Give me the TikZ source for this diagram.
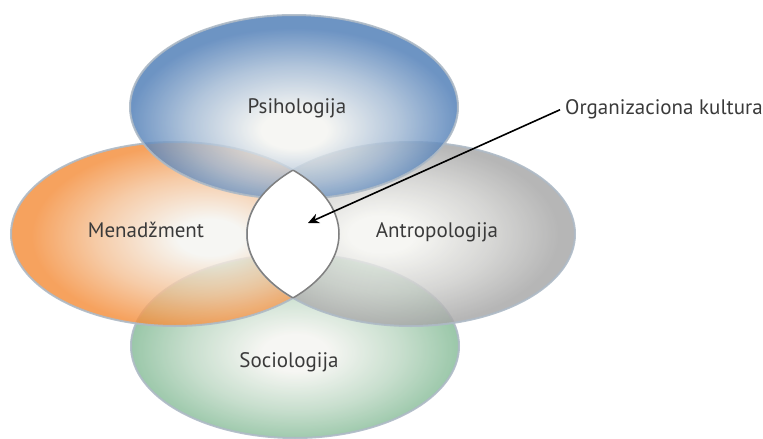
\documentclass[tikz,border=0pt]{standalone}
\usepackage{fontspec}
\setmainfont{PT Sans}
\usetikzlibrary{shapes.geometric,arrows.meta}

% Palette of the four fields
\definecolor{psiblue}{HTML}{4D7CB6}
\definecolor{menorange}{HTML}{F48D3A}
\definecolor{antgray}{HTML}{A6A6A6}
\definecolor{socgreen}{HTML}{84BB96}
\definecolor{rimcol}{HTML}{AEBAC6}
\definecolor{lenscol}{HTML}{808080}
\definecolor{labelcol}{HTML}{3A3A3A}
\definecolor{paleglow}{HTML}{F4F4F0}

% Radial fills, each with its pale core shifted towards the common centre
\pgfdeclareradialshading{psishade}{\pgfpoint{0bp}{-7bp}}{color(0bp)=(paleglow); color(5bp)=(paleglow); color(16bp)=(psiblue!50!paleglow); color(25bp)=(psiblue); color(50bp)=(psiblue)}
\pgfdeclareradialshading{menshade}{\pgfpoint{6bp}{-1bp}}{color(0bp)=(paleglow); color(5bp)=(paleglow); color(16bp)=(menorange!50!paleglow); color(25bp)=(menorange); color(50bp)=(menorange)}
\pgfdeclareradialshading{antshade}{\pgfpoint{-5bp}{0bp}}{color(0bp)=(paleglow); color(5bp)=(paleglow); color(16bp)=(antgray!50!paleglow); color(25bp)=(antgray); color(50bp)=(antgray)}
\pgfdeclareradialshading{socshade}{\pgfpoint{0bp}{-2bp}}{color(0bp)=(paleglow); color(5bp)=(paleglow); color(16bp)=(socgreen!50!paleglow); color(25bp)=(socgreen); color(50bp)=(socgreen)}

\tikzset{
  field/.style={ellipse, inner sep=0pt, draw=rimcol, line width=2pt,
                fill opacity=0.82, draw opacity=0.9,
                minimum width=328pt, minimum height=184pt},
  fieldlabel/.style={text=labelcol, font=\fontsize{21}{24}\selectfont, anchor=base},
  lensrim/.style={draw=lenscol, line width=1.5pt},
  pointer/.style={draw=black, line width=1.6pt, -{Stealth[length=11pt,width=10pt]}}
}

\begin{document}
\begin{tikzpicture}[x=1pt, y=-1pt]
  \useasboundingbox (0,0) rectangle (763,439);

  % the four overlapping fields
  \node[field, shading=socshade] (soc) at (295,346) {};
  \node[field, shading=menshade] (men) at (175,234) {};
  \node[field, shading=antshade] (ant) at (411,234) {};
  \node[field, shading=psishade] (psi) at (294,107) {};

  % white lens shared by the left and right fields
  \begin{scope}
    \clip (175,234) ellipse [x radius=164, y radius=92];
    \fill[white] (411,234) ellipse [x radius=164, y radius=92];
    \draw[lensrim] (411,234) ellipse [x radius=164, y radius=92];
  \end{scope}
  \begin{scope}
    \clip (411,234) ellipse [x radius=164, y radius=92];
    \draw[lensrim] (175,234) ellipse [x radius=164, y radius=92];
  \end{scope}

  % field names
  \node[fieldlabel] (psil) at (297,113) {Psihologija};
  \node[fieldlabel] (menl) at (146,237) {Menadžment};
  \node[fieldlabel] (antl) at (437,237) {Antropologija};
  \node[fieldlabel] (socl) at (289,367) {Sociologija};

  % pointer to the shared core
  \node[fieldlabel, anchor=base west, inner sep=0pt] (org) at (565,114) {Organizaciona kultura};
  \coordinate (core) at (308,223);
  \draw[pointer] ([xshift=-5pt,yshift=-1pt]org.west) -- (core);
\end{tikzpicture}
\end{document}
